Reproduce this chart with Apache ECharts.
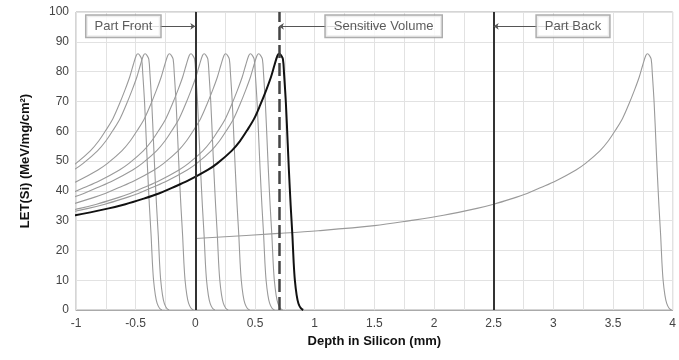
<!DOCTYPE html>
<html>
<head>
<meta charset="utf-8">
<script src="https://cdn.jsdelivr.net/npm/echarts@6/dist/echarts.min.js"></script>
<style>html,body{margin:0;padding:0;background:#fff}#c{width:679px;height:360px}</style>
</head>
<body>
<div id="c"></div>
<script>
// Bragg curve profile: distance before the peak (mm) and LET
const profileDist = [3.79, 3.09, 2.76, 2.29, 1.99, 1.71, 1.43, 1.29, 1.15, 1.01, 0.9, 0.77, 0.60, 0.52, 0.40, 0.33, 0.27, 0.21, 0.16, 0.11, 0.07, 0.04, 0.015, 0, -0.015, -0.03, -0.04, -0.055, -0.07, -0.08, -0.095, -0.11, -0.12, -0.13, -0.145, -0.16, -0.18, -0.2];
const profileLET  = [24.0, 25.7, 26.6, 28.3, 30.0, 31.8, 34.1, 35.5, 37.2, 39.1, 41.0, 43.3, 47.0, 49.2, 53.4, 56.7, 60.3, 64.3, 68.8, 73.8, 78.2, 82.3, 85.4, 86, 85.4, 84.2, 79, 69.3, 56, 47, 35, 24.6, 16, 10, 5, 2.2, 0.6, 0];
// Peak positions (mm) of the gray curves and of the highlighted curve
const grayPeaks = [-0.48, -0.42, -0.216, -0.036, 0.075, 0.255, 0.463, 0.532, 3.79];
const blackPeak = 0.704;
// Boundary lines
const solidLines = [0, 2.5];
const dashedLines = [0.7];
// Annotation boxes
const annotText = ['Part Front', 'Sensitive Volume', 'Part Back'];
const annotX = [-0.603, 1.578, 3.165];
const annotY = [95.2, 95.2, 95.2];
const annotTarget = [0, 0.7, 2.5];
// Axis ticks
const xMin = -1, xMax = 4, xStep = 0.5;
const yMin = 0, yMax = 100, yStep = 10;

function curve(p) { return profileDist.map((d, i) => [p - d, profileLET[i]]); }

const series = [];
grayPeaks.forEach(p => series.push({
  type: 'line', data: curve(p), showSymbol: false, smooth: 0.35,
  lineStyle: { color: '#9a9a9a', width: 1.1 }, silent: true, z: 2
}));
series.push({
  type: 'line', data: curve(blackPeak), showSymbol: false, smooth: 0.35,
  lineStyle: { color: '#111', width: 2 }, silent: true, z: 3
});
series.push({
  type: 'line', data: [], silent: true, z: 4,
  markLine: {
    silent: true, symbol: ['none', 'none'], label: { show: false },
    data: solidLines.map(x => ({ xAxis: x, lineStyle: { color: '#333', width: 2, type: 'solid' } }))
      .concat(dashedLines.map(x => ({ xAxis: x, lineStyle: { color: '#444', width: 2.5, type: [13, 5] } })))
  }
});
series.push({
  type: 'line', data: [], silent: true, z: 5,
  markLine: {
    silent: true, symbol: ['none', 'arrow'], symbolSize: 5, label: { show: false },
    lineStyle: { color: '#555', width: 1, type: 'solid' },
    data: annotX.map((x, i) => [{ coord: [x, annotY[i]] }, { coord: [annotTarget[i], annotY[i]] }])
  }
});
series.push({
  type: 'scatter', symbolSize: 1, itemStyle: { color: 'rgba(0,0,0,0)' }, silent: true, z: 10,
  data: annotX.map((x, i) => [x, annotY[i], annotText[i]]),
  label: {
    show: true, position: 'inside', formatter: p => p.data[2],
    fontFamily: 'Liberation Sans', fontSize: 13, color: '#333',
    backgroundColor: '#fff', borderColor: '#999', borderWidth: 1.5, padding: [4, 8]
  },
  labelLayout: { hideOverlap: false }
});

const chart = echarts.init(document.getElementById('c'));
chart.setOption({
  animation: false,
  grid: { left: 76, right: 2, top: 12, bottom: 50, show: true, borderColor: '#aaa', borderWidth: 1 },
  xAxis: {
    type: 'value', min: xMin, max: xMax, interval: xStep,
    name: 'Depth in Silicon (mm)', nameLocation: 'middle', nameGap: 24,
    nameTextStyle: { fontFamily: 'Liberation Sans', fontWeight: 'bold', fontSize: 13, color: '#111' },
    axisLine: { lineStyle: { color: '#aaa' } }, axisTick: { show: false },
    axisLabel: { fontFamily: 'Liberation Sans', fontSize: 12, color: '#444', margin: 8 },
    splitLine: { lineStyle: { color: '#e2e2e2' } },
    minorTick: { show: false, splitNumber: 2 },
    minorSplitLine: { show: true, lineStyle: { color: '#e2e2e2' } }
  },
  yAxis: {
    type: 'value', min: yMin, max: yMax, interval: yStep,
    name: 'LET(Si) (MeV/mg/cm²)', nameLocation: 'middle', nameGap: 44,
    nameTextStyle: { fontFamily: 'Liberation Sans', fontWeight: 'bold', fontSize: 13, color: '#111' },
    axisLine: { show: true, lineStyle: { color: '#aaa' } }, axisTick: { show: false },
    axisLabel: { fontFamily: 'Liberation Sans', fontSize: 12, color: '#444', margin: 7 },
    splitLine: { lineStyle: { color: '#e2e2e2' } }
  },
  series: series
});
</script>
</body>
</html>
